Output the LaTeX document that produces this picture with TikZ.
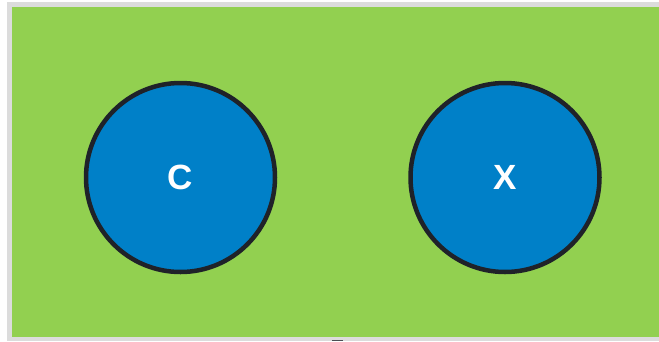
\documentclass[tikz,border=0pt]{standalone}
\usepackage{fontspec}
\setmainfont{Liberation Sans}
\definecolor{pagegray}{HTML}{DCDCDC}
\definecolor{fieldgreen}{HTML}{92D050}
\definecolor{discblue}{HTML}{0080C8}
\definecolor{rimdark}{HTML}{1F2229}
\tikzset{
  disc/.style={circle, fill=discblue, draw=rimdark, line width=4.5pt,
    minimum size=189pt, inner sep=0pt, text=white,
    font=\fontsize{35}{35}\selectfont\bfseries},
}
\begin{document}
\begin{tikzpicture}[x=1pt,y=-1pt]
  \useasboundingbox (0,0) rectangle (659,341);
  \fill[white] (0,0) rectangle (659,341);
  \fill[pagegray] (7,2) rectangle (659,341);
  \fill[fieldgreen] (12,7) rectangle (659,337);
  \fill[rimdark!80] (332,339.5) rectangle (343,341);
  \node[disc] (c) at (180.5,177.5) {C};
  \node[disc] (x) at (505,177.5) {X};
\end{tikzpicture}
\end{document}
